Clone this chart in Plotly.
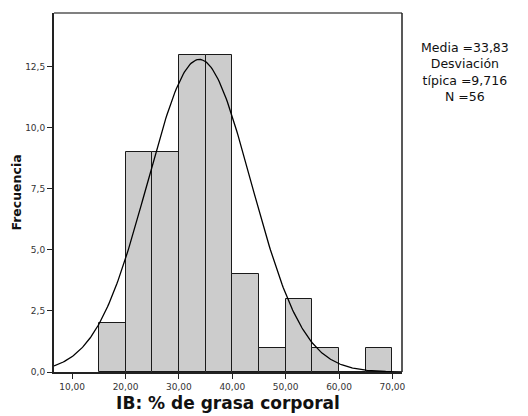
import numpy as np
import plotly.graph_objects as go

# Histogram bins (lower edges, width 5) and counts
bin_starts = [15, 20, 25, 30, 35, 40, 45, 50, 55, 60, 65]
counts = [2, 9, 9, 13, 13, 4, 1, 3, 1, 0, 1]
bin_width = 5

# Summary statistics
media = 33.83
desviacion = 9.716
n_total = 56
curve_peak = 12.8  # height of the fitted normal curve at its mean

y_ticks = [0, 2.5, 5, 7.5, 10, 12.5]
x_ticks = [10, 20, 30, 40, 50, 60, 70]
x_range = [6.6, 71.8]
y_range = [0, 14.7]

centers = [s + bin_width / 2 for s in bin_starts]

xs = np.linspace(x_range[0], x_range[1], 300)
ys = curve_peak * np.exp(-0.5 * ((xs - media) / desviacion) ** 2)

fig = go.Figure()
fig.add_trace(go.Bar(
    x=centers, y=counts, width=bin_width,
    marker=dict(color="#cccccc", line=dict(color="#1a1a1a", width=1)),
    hoverinfo="x+y",
))
fig.add_trace(go.Scatter(
    x=xs, y=ys, mode="lines",
    line=dict(color="black", width=1.3),
    hoverinfo="skip",
))

font_main = "DejaVu Sans"

fig.update_layout(
    width=528, height=416,
    margin=dict(l=54, r=126, t=13, b=44),
    paper_bgcolor="white", plot_bgcolor="white",
    showlegend=False,
    separators=",.",
    bargap=0,
    font=dict(family=font_main, size=9, color="#333333"),
    xaxis=dict(
        range=x_range, tickvals=x_ticks, tickformat=".2f",
        ticks="outside", ticklen=5, tickcolor="#222222", tickwidth=1,
        showgrid=False, zeroline=False, automargin=False,
        showline=True, linecolor="#222222", linewidth=2,
        tickfont=dict(size=9, family=font_main, color="#333333"),
        title=dict(text="<b>IB: % de grasa corporal</b>",
                   font=dict(size=17, family=font_main, color="#111111"),
                   standoff=6),
    ),
    yaxis=dict(
        range=y_range, tickvals=y_ticks, tickformat=".1f",
        ticks="outside", ticklen=5, tickcolor="#222222", tickwidth=1,
        showgrid=False, zeroline=False, automargin=False,
        showline=True, linecolor="#222222", linewidth=2,
        tickfont=dict(size=9, family=font_main, color="#333333"),
        title=dict(text="<b>Frecuencia</b>",
                   font=dict(size=12.5, family=font_main, color="#111111"),
                   standoff=1),
    ),
)

# Top and right edges of the plot frame
fig.add_shape(type="line", xref="paper", yref="paper", x0=0, x1=1, y0=1, y1=1,
              line=dict(color="#808080", width=2))
fig.add_shape(type="line", xref="paper", yref="paper", x0=1, x1=1, y0=0, y1=1,
              line=dict(color="#222222", width=1.5))

stats_text = (f"Media ={media:.2f}".replace(".", ",") + "<br>Desviación<br>"
              + f"típica ={desviacion:.3f}".replace(".", ",") + f"<br>N ={n_total}")
fig.add_annotation(
    xref="paper", yref="paper", x=1.18, y=0.93, xanchor="center", yanchor="top",
    text=stats_text, showarrow=False, align="center",
    font=dict(size=12.5, family=font_main, color="#111111"),
)

fig.write_html("out.html")
